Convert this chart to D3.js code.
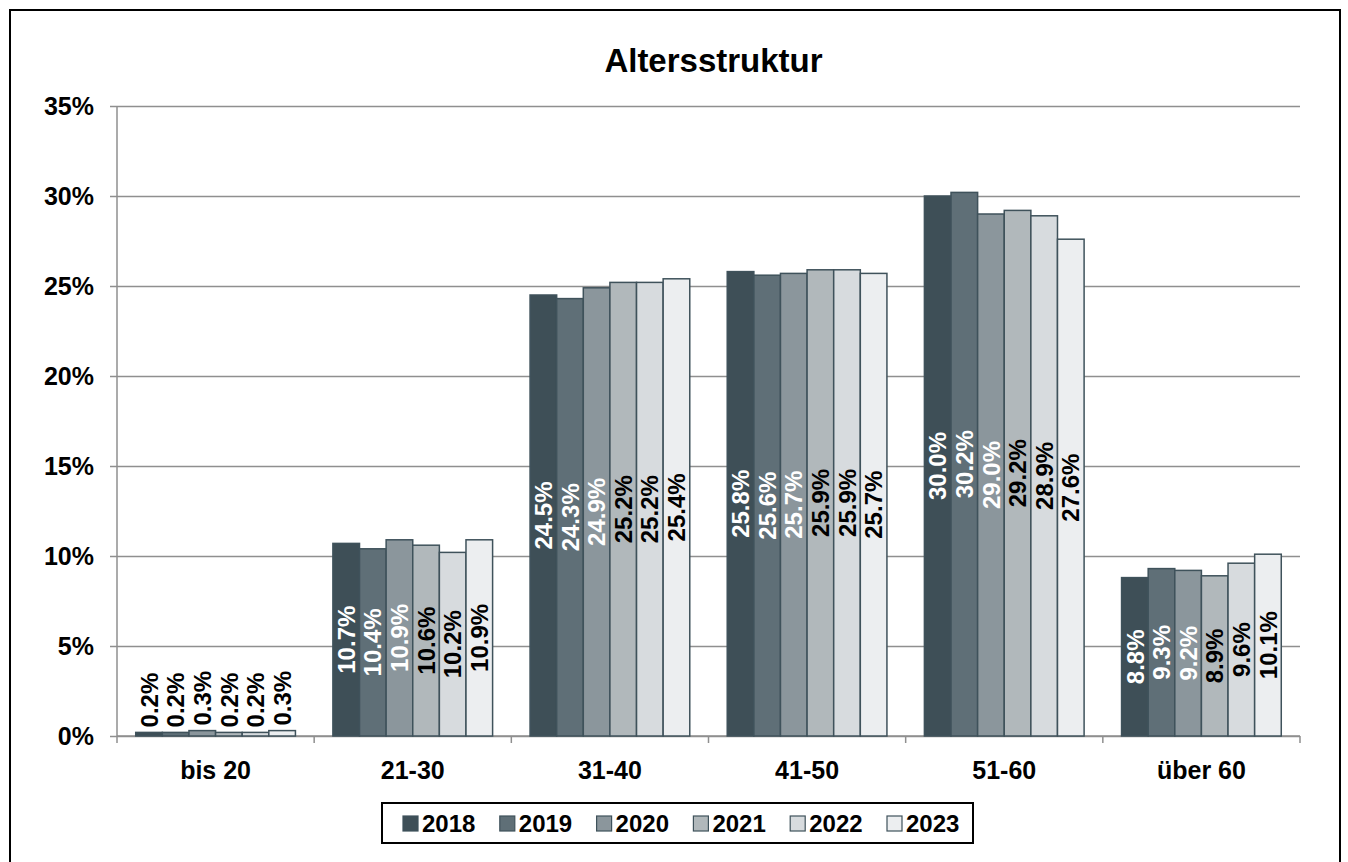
<!DOCTYPE html>
<html lang="de">
<head>
<meta charset="UTF-8">
<title>Altersstruktur</title>
<script src="https://d3js.org/d3.v7.min.js"></script>
<style>
  body { margin: 0; background: #fff; }
  svg text { font-family: "Liberation Sans", Arial, sans-serif; font-weight: bold; }
</style>
</head>
<body>
<div id="chart"></div>
<script>
// Daten
var kategorien = ["bis 20", "21-30", "31-40", "41-50", "51-60", "über 60"]
var jahre = ["2018", "2019", "2020", "2021", "2022", "2023"]
var werte2018 = [0.2, 10.7, 24.5, 25.8, 30.0, 8.8]
var werte2019 = [0.2, 10.4, 24.3, 25.6, 30.2, 9.3]
var werte2020 = [0.3, 10.9, 24.9, 25.7, 29.0, 9.2]
var werte2021 = [0.2, 10.6, 25.2, 25.9, 29.2, 8.9]
var werte2022 = [0.2, 10.2, 25.2, 25.9, 28.9, 9.6]
var werte2023 = [0.3, 10.9, 25.4, 25.7, 27.6, 10.1]
var yTicks = [0, 5, 10, 15, 20, 25, 30, 35]

var serien = [werte2018, werte2019, werte2020, werte2021, werte2022, werte2023]
var farben = ["#3e4f57", "#5f6f77", "#8b969c", "#b1b8bb", "#d7dbde", "#eceef0"]
var textFarben = ["#fff", "#fff", "#fff", "#000", "#000", "#000"]

var width = 1348, height = 862
var margin = {top: 106, bottom: 126, left: 117, right: 48}

var svg = d3.select("#chart").append("svg")
    .attr("width", width)
    .attr("height", height)

// Rahmen
svg.append("rect")
    .attr("x", 10).attr("y", 10)
    .attr("width", 1330).attr("height", 870)
    .attr("fill", "none")
    .attr("stroke", "#000")
    .attr("stroke-width", 2)

var x0 = d3.scaleBand()
    .domain(kategorien)
    .range([margin.left, width - margin.right])
    .paddingInner(0.19)
    .paddingOuter(0.095)

var x1 = d3.scaleBand()
    .domain(jahre)
    .range([0, x0.bandwidth()])

var y = d3.scaleLinear()
    .domain([0, 35])
    .range([height - margin.bottom, margin.top])

// Titel
svg.append("text")
    .attr("x", (margin.left + width - margin.right) / 2 + 5)
    .attr("y", 72)
    .attr("text-anchor", "middle")
    .style("font-size", "33px")
    .text("Altersstruktur")

// Gitternetz + y-Achse
var yAxis = d3.axisLeft(y)
    .tickValues(yTicks)
    .tickSize(-(width - margin.left - margin.right))
    .tickPadding(23)
    .tickFormat(function (d) { return d + "%" })

var gy = svg.append("g")
    .attr("transform", "translate(" + margin.left + ",0)")
    .call(yAxis)
gy.select(".domain").remove()
gy.selectAll(".tick line")
    .attr("x1", -7)
    .attr("stroke", "#8f8f8f")
    .attr("stroke-width", 1.5)
gy.selectAll(".tick text")
    .style("font-size", "25px")
    .attr("fill", "#000")

svg.append("line")
    .attr("x1", margin.left).attr("x2", margin.left)
    .attr("y1", margin.top).attr("y2", height - margin.bottom)
    .attr("stroke", "#8f8f8f")
    .attr("stroke-width", 1.5)

// x-Achse mit Trennstrichen zwischen Kategorien
var step = x0.step()
var grenzen = kategorien.map(function (k) { return x0(k) - step * x0.paddingInner() / 2 })
grenzen.push(grenzen[grenzen.length - 1] + step)

var gx = svg.append("g")
gx.append("line")
    .attr("x1", margin.left).attr("x2", width - margin.right)
    .attr("y1", y(0)).attr("y2", y(0))
    .attr("stroke", "#8f8f8f")
    .attr("stroke-width", 1.5)
gx.selectAll("line.tick")
    .data(grenzen)
    .enter().append("line")
    .attr("class", "tick")
    .attr("x1", function (d) { return d }).attr("x2", function (d) { return d })
    .attr("y1", y(0)).attr("y2", y(0) + 7)
    .attr("stroke", "#8f8f8f")
    .attr("stroke-width", 1.5)
gx.selectAll("text")
    .data(kategorien)
    .enter().append("text")
    .attr("x", function (d) { return x0(d) + x0.bandwidth() / 2 })
    .attr("y", 779)
    .attr("text-anchor", "middle")
    .style("font-size", "25px")
    .text(function (d) { return d })

// Balken
var gruppen = svg.selectAll("g.gruppe")
    .data(kategorien)
    .enter().append("g")
    .attr("class", "gruppe")
    .attr("transform", function (d) { return "translate(" + x0(d) + ",0)" })

gruppen.selectAll("rect")
    .data(function (d, i) { return jahre.map(function (j, s) { return {jahr: j, s: s, wert: serien[s][i]} }) })
    .enter().append("rect")
    .attr("x", function (d) { return x1(d.jahr) })
    .attr("y", function (d) { return y(d.wert) })
    .attr("width", x1.bandwidth())
    .attr("height", function (d) { return y(0) - y(d.wert) })
    .attr("fill", function (d) { return farben[d.s] })
    .attr("stroke", "#3f525b")
    .attr("stroke-width", 1.5)

// Beschriftungen (gedreht)
gruppen.selectAll("text.wert")
    .data(function (d, i) { return jahre.map(function (j, s) { return {jahr: j, s: s, wert: serien[s][i]} }) })
    .enter().append("text")
    .attr("class", "wert")
    .attr("transform", function (d) {
        var cx = x1(d.jahr) + x1.bandwidth() / 2
        var cy = d.wert < 1 ? y(d.wert) - 5 : (y(d.wert) + y(0)) / 2
        return "translate(" + cx + "," + cy + ") rotate(-90)"
    })
    .attr("text-anchor", function (d) { return d.wert < 1 ? "start" : "middle" })
    .attr("dy", "0.36em")
    .attr("fill", function (d) { return d.wert < 1 ? "#000" : textFarben[d.s] })
    .style("font-size", "24px")
    .text(function (d) { return d.wert.toFixed(1) + "%" })

// Legende
var legende = svg.append("g")
legende.append("rect")
    .attr("x", 382).attr("y", 803)
    .attr("width", 591).attr("height", 40)
    .attr("fill", "#fff")
    .attr("stroke", "#000")
    .attr("stroke-width", 2)

var items = legende.selectAll("g.item")
    .data(jahre)
    .enter().append("g")
    .attr("class", "item")
    .attr("transform", function (d, i) { return "translate(" + (403 + i * 96.8) + ",816)" })
items.append("rect")
    .attr("width", 15).attr("height", 15)
    .attr("fill", function (d, i) { return farben[i] })
    .attr("stroke", "#3f525b")
    .attr("stroke-width", 1.2)
items.append("text")
    .attr("x", 19)
    .attr("y", 16)
    .style("font-size", "24px")
    .text(function (d) { return d })
</script>
</body>
</html>
